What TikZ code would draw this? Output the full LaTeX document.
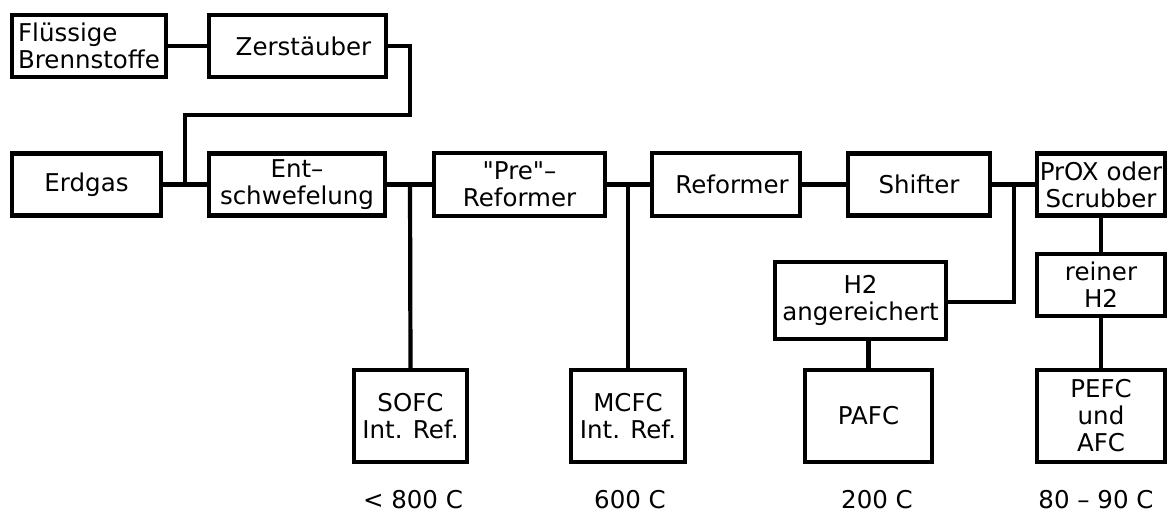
\documentclass[tikz,border=0pt]{standalone}
\usepackage{fontspec}
\setmainfont{DejaVu Sans}[Ligatures=TeXOff]
\begin{document}
\begin{tikzpicture}[x=1pt,y=-1pt,
  box/.style={draw, line width=4.2pt, rectangle, inner sep=0pt, align=center,
    font=\fontsize{24.5}{27}\selectfont},
  lbl/.style={inner sep=0pt, font=\fontsize{24.5}{27}\selectfont},
  conn/.style={line width=4.2pt}]
\useasboundingbox (0,0) rectangle (1175,516);
% boxes (center, width, height)
\node[box, minimum width=154, minimum height=62, align=left] (fl) at (89,46) {Flüssige\\Brennstoffe};
\node[box, minimum width=177, minimum height=62] (ze) at (297.5,46) {\hspace*{12pt}Zerstäuber};
\node[box, minimum width=149, minimum height=62] (erd) at (86.5,184.5) {Erdgas};
\node[box, minimum width=176, minimum height=62] (ent) at (297,184.5) {Ent–\\schwefelung};
\node[box, minimum width=171, minimum height=63] (pre) at (519.5,184.5) {"Pre"–\\Reformer};
\node[box, minimum width=148, minimum height=63] (ref) at (726,184.5) {\hspace*{12pt}Reformer};
\node[box, minimum width=142, minimum height=62] (shi) at (919,184.5) {Shifter};
\node[box, minimum width=128, minimum height=62] (prox) at (1101,184.5) {PrOX oder\\Scrubber};
\node[box, minimum width=171, minimum height=77] (h2a) at (860.5,300.5) {H2\\angereichert};
\node[box, minimum width=128, minimum height=62] (rh2) at (1101,285) {reiner\\H2};
\node[box, minimum width=113, minimum height=92] (sofc) at (410.5,416) {SOFC\\Int. Ref.};
\node[box, minimum width=114, minimum height=92] (mcfc) at (628,416) {MCFC\\Int. Ref.};
\node[box, minimum width=127, minimum height=92] (pafc) at (868.5,416) {PAFC};
\node[box, minimum width=128, minimum height=92] (pefc) at (1101,416) {PEFC\\und\\AFC};
% temperature labels
\node[lbl] (t1) at (413,500) {< 800 C};
\node[lbl] (t2) at (630,500) {600 C};
\node[lbl] (t3) at (877,500) {200 C};
\node[lbl] (t4) at (1096,500) {80 – 90 C};
% junction coordinates
\coordinate (jz) at (410,46);
\coordinate (jzb) at (410,115);
\coordinate (jzc) at (185,115);
\coordinate (jm) at (185,184.5);
\coordinate (js) at (410,184.5);
\coordinate (jmc) at (628,184.5);
\coordinate (jh) at (1014,184.5);
\coordinate (jhb) at (1014,302);
% connectors
\draw[conn] (fl.east) -- (ze.west);
\draw[conn, line join=miter] (ze.east) -- (jz) -- (jzb) -- (jzc) -- (jm);
\draw[conn] (erd.east) -- (ent.west);
\draw[conn] (ent.east) -- (pre.west);
\draw[conn] (js) -- (sofc.north);
\draw[conn] (pre.east) -- (ref.west);
\draw[conn] (jmc) -- (mcfc.north);
\draw[conn] (ref.east) -- (shi.west);
\draw[conn] (shi.east) -- (prox.west);
\draw[conn, line join=miter] (jh) -- (jhb) -- (h2a.east |- jhb);
\draw[conn] (pafc.north) -- (pafc.north |- h2a.south);
\draw[conn] (prox.south) -- (rh2.north);
\draw[conn] (rh2.south) -- (pefc.north);
\end{tikzpicture}
\end{document}
